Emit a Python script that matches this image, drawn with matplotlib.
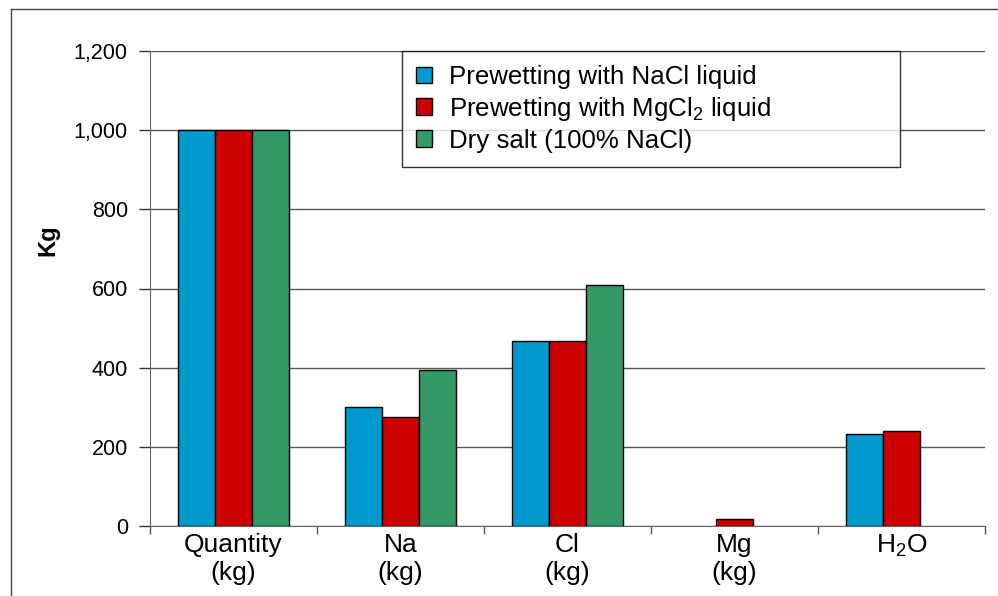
import matplotlib
matplotlib.use("Agg")
import matplotlib.pyplot as plt
import numpy as np
from matplotlib.lines import Line2D

plt.rcParams['font.family'] = ['Liberation Sans', 'DejaVu Sans']
plt.rcParams['mathtext.fontset'] = 'custom'
plt.rcParams['mathtext.rm'] = 'Liberation Sans'

categories = ["Quantity\n(kg)", "Na\n(kg)", "Cl\n(kg)", "Mg\n(kg)", "H$\\mathregular{_2}$O"]
series_names = ["Prewetting with NaCl liquid",
                "Prewetting with MgCl$\\mathregular{_2}$ liquid",
                "Dry salt (100% NaCl)"]
nacl_liquid = [1000, 300, 467, np.nan, 232]
mgcl2_liquid = [1000, 275, 467, 18, 240]
dry_salt = [1000, 393, 609, np.nan, np.nan]
colors = ["#0099CC", "#CC0000", "#339966"]
yticks = [0, 200, 400, 600, 800, 1000, 1200]

fig = plt.figure(figsize=(9.98, 5.96), dpi=100)
W, H = 998, 596
ax = fig.add_axes([150 / W, 1 - 526 / H, (985 - 150) / W, (526 - 51) / H])

x = np.arange(len(categories))
bw = 0.222
for i, (vals, name, c) in enumerate(zip([nacl_liquid, mgcl2_liquid, dry_salt], series_names, colors)):
    ax.bar(x + (i - 1) * bw, vals, width=bw, color=c, edgecolor="black", linewidth=1,
           label=name, zorder=3)

ax.set_xlim(-0.5, len(categories) - 0.5)
ax.set_ylim(0, 1200)
ax.set_yticks(yticks)
ax.set_yticklabels([f"{v:,}" for v in yticks])
ax.set_xticks(x)
ax.set_xticklabels(categories)
ax.set_xticks(np.arange(-0.5, len(categories)), minor=True)
ax.tick_params(axis='x', which='major', length=0, pad=5, labelsize=19)
ax.tick_params(axis='x', which='minor', length=6, width=1, color="#555555", direction='out')
ax.tick_params(axis='y', length=8, width=1, color="#333333", pad=8, labelsize=15.5)

ax.grid(axis='y', color="#555555", linewidth=1, zorder=0)
ax.set_axisbelow(True)
for s in ['top', 'right']:
    ax.spines[s].set_visible(False)
ax.spines['left'].set_color("#666666")
ax.spines['bottom'].set_color("#666666")

fig.text(48 / W, 1 - 240 / H, "Kg", rotation=90, ha='center', va='center',
         fontsize=17, fontweight='bold')

leg = ax.legend(loc='upper left', bbox_to_anchor=((402 - 150) / 835, (526 - 168) / 475,
                                                   (900 - 402) / 835, (168 - 51) / 475),
                mode='expand', borderaxespad=0, fontsize=18.6, frameon=True, fancybox=False,
                edgecolor='black', handlelength=0.62, handleheight=0.62, handletextpad=0.65,
                labelspacing=0.22, borderpad=0.55)
leg.get_frame().set_linewidth(1)
leg.set_zorder(5)

# outer frame
fig.add_artist(Line2D([11 / W, 11 / W], [0, 1 - 9 / H], color="#444444", linewidth=1))
fig.add_artist(Line2D([11 / W, 1], [1 - 9 / H, 1 - 9 / H], color="#444444", linewidth=1))

fig.savefig("out.png", dpi=100)
